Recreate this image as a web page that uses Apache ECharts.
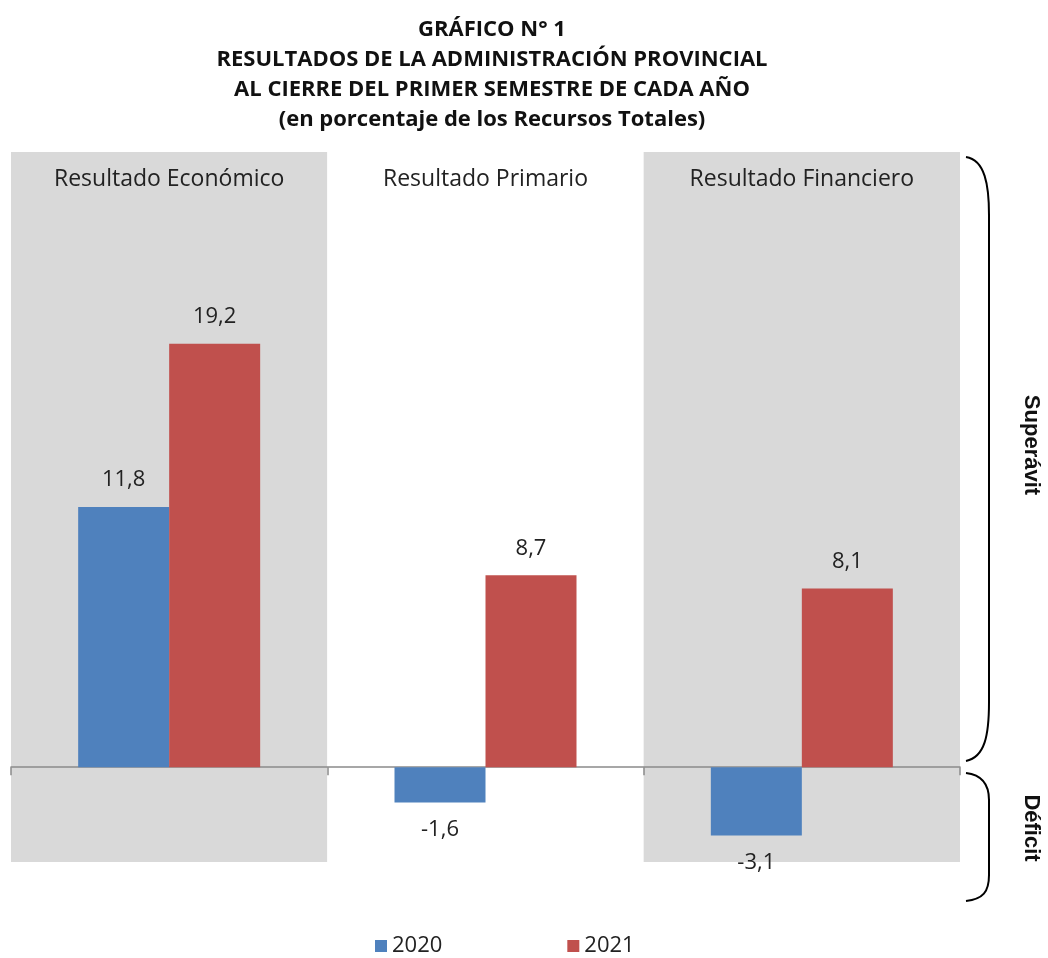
<!DOCTYPE html>
<html>
<head>
<meta charset="utf-8">
<script src="https://cdn.jsdelivr.net/npm/echarts@6/dist/echarts.min.js"></script>
<style>
  html, body { margin: 0; padding: 0; background: #fff; }
  #chart { width: 1048px; height: 958px; }
</style>
</head>
<body>
<div id="chart"></div>
<script>
// datos
const categorias = ['Resultado Económico', 'Resultado Primario', 'Resultado Financiero'];
const anios = ['2020', '2021'];
const valores2020 = [11.8, -1.6, -3.1];
const valores2021 = [19.2, 8.7, 8.1];

const fmt = (v) => String(v).replace('.', ',');

const serie = (nombre, datos, color) => ({
  name: nombre,
  type: 'bar',
  barWidth: 91,
  barGap: '0%',
  itemStyle: { color: color },
  label: {
    show: true,
    fontFamily: 'Open Sans',
    fontSize: 22,
    color: '#222',
    distance: 16,
    formatter: (p) => fmt(p.value)
  },
  data: datos.map(v => ({
    value: v,
    label: { position: v < 0 ? 'bottom' : 'top' }
  }))
});

const chart = echarts.init(document.getElementById('chart'));

chart.setOption({
  animation: false,
  title: {
    text: 'GRÁFICO N° 1\nRESULTADOS DE LA ADMINISTRACIÓN PROVINCIAL\nAL CIERRE DEL PRIMER SEMESTRE DE CADA AÑO\n(en porcentaje de los Recursos Totales)',
    left: 487,
    textAlign: 'center',
    top: 10,
    textStyle: {
      fontFamily: 'Open Sans',
      fontWeight: 'bold',
      fontSize: 22,
      lineHeight: 30,
      color: '#111'
    }
  },
  legend: {
    top: 930,
    left: 370,
    itemWidth: 12,
    itemHeight: 12,
    itemGap: 125,
    icon: 'rect',
    textStyle: { fontFamily: 'Open Sans', fontSize: 22, color: '#222' },
    data: anios
  },
  grid: { left: 11, right: 88, top: 152, bottom: 96 },
  xAxis: [
    {
      type: 'category',
      data: categorias,
      axisLine: { lineStyle: { color: '#8a8a8a', width: 1.5 } },
      axisTick: { show: true, length: 8, lineStyle: { color: '#8a8a8a', width: 1.5 } },
      axisLabel: { show: false },
      splitArea: { show: true, areaStyle: { color: ['#d9d9d9', '#ffffff'] } }
    },
    {
      type: 'category',
      position: 'top',
      data: categorias,
      axisLine: { show: false },
      axisTick: { show: false },
      axisLabel: {
        inside: true,
        margin: 16,
        fontFamily: 'Open Sans',
        fontSize: 23,
        color: '#222',
        verticalAlign: 'top'
      }
    }
  ],
  yAxis: {
    type: 'value',
    min: -4.3,
    max: 27.9,
    show: false,
    splitLine: { show: false }
  },
  series: [
    serie(anios[0], valores2020, '#4f81bd'),
    serie(anios[1], valores2021, '#c0504d')
  ],
  graphic: [
    // llave superávit
    { type: 'bezierCurve', shape: { x1: 966, y1: 157, cpx1: 985, cpy1: 160, cpx2: 989, cpy2: 185, x2: 989, y2: 215 }, style: { stroke: '#000', lineWidth: 2, fill: null } },
    { type: 'line', shape: { x1: 989, y1: 214, x2: 989, y2: 703 }, style: { stroke: '#000', lineWidth: 2 } },
    { type: 'bezierCurve', shape: { x1: 989, y1: 702, cpx1: 989, cpy1: 735, cpx2: 985, cpy2: 757, x2: 966, y2: 761 }, style: { stroke: '#000', lineWidth: 2, fill: null } },
    // llave déficit
    { type: 'bezierCurve', shape: { x1: 966, y1: 773, cpx1: 983, cpy1: 775, cpx2: 989, cpy2: 785, x2: 989, y2: 800 }, style: { stroke: '#000', lineWidth: 2, fill: null } },
    { type: 'line', shape: { x1: 989, y1: 799, x2: 989, y2: 876 }, style: { stroke: '#000', lineWidth: 2 } },
    { type: 'bezierCurve', shape: { x1: 989, y1: 875, cpx1: 989, cpy1: 892, cpx2: 983, cpy2: 899, x2: 966, y2: 901 }, style: { stroke: '#000', lineWidth: 2, fill: null } },
    {
      type: 'text', x: 1031, y: 445, rotation: -Math.PI / 2,
      style: { text: 'Superávit', font: 'bold 22px "Liberation Sans"', fill: '#111', align: 'center', verticalAlign: 'middle' }
    },
    {
      type: 'text', x: 1031, y: 828, rotation: -Math.PI / 2,
      style: { text: 'Déficit', font: 'bold 22px "Liberation Sans"', fill: '#111', align: 'center', verticalAlign: 'middle' }
    }
  ]
});

window.addEventListener('resize', () => chart.resize());
</script>
</body>
</html>
